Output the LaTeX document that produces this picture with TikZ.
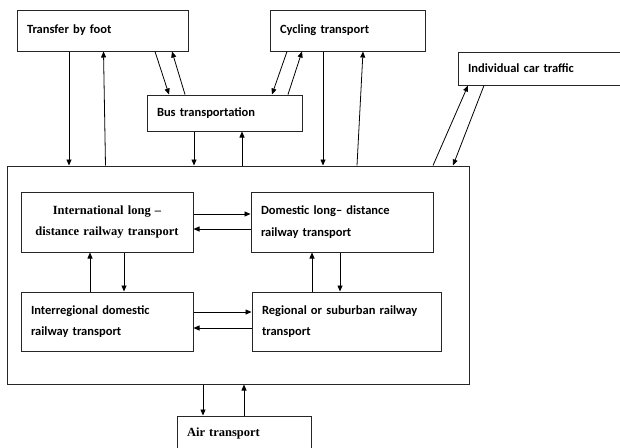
\documentclass[tikz,border=0pt]{standalone}
\usepackage{fontspec}
\usepackage{tikz}
\usetikzlibrary{arrows.meta}
\newfontfamily\calfont{Carlito}[Ligatures=TeX]
\newfontfamily\timesfont{Liberation Serif}[Ligatures=TeX]

\begin{document}
\begin{tikzpicture}[
  x=1pt, y=-1pt,
  every node/.style={font=\calfont\bfseries\fontsize{12.5}{21.5}\selectfont},
  box/.style={draw=black!85, line width=1pt, inner xsep=10pt, inner ysep=0pt,
              align=left},
  tbox/.style={box, align=center,
               font=\timesfont\bfseries\fontsize{12.5}{21}\selectfont},
  arrow/.style={-{Triangle[length=6pt,width=5pt]}, line width=0.8pt},
]
\clip (0,0) rectangle (620,447);

%% Outer modes
\node[box, text width=151pt, minimum height=41pt] (foot) at (102.5,30.5) {Transfer by foot};
\node[box, text width=135pt, minimum height=41pt] (cyc)  at (347.5,30.5) {Cycling transport};
\node[box, text width=135pt, minimum height=36pt] (bus)  at (224.5,113)  {Bus transportation};
\node[box, text width=162pt, minimum height=33pt] (car)  at (549,68.5)   {Individual car traffic};

%% Railway block
\node[draw=black!85, line width=1pt, minimum width=462pt, minimum height=218pt] (rail) at (238,275) {};
\node[tbox, text width=152pt, minimum height=60pt] (intl)  at (107,222)   {International long \textendash\\distance railway transport};
\node[box, text width=162pt, minimum height=60pt]  (dom)   at (342,222)   {Domestic long\textendash\ distance\\railway transport};
\node[box, text width=152pt, minimum height=59pt]  (inter) at (107,321.5) {Interregional domestic\\railway transport};
\node[box, text width=169pt, minimum height=59pt]  (reg)   at (346.5,321.5) {Regional or suburban railway\\transport};

\node[tbox, align=left, text width=114pt, minimum height=34pt] (air) at (244,433) {Air transport};

%% Foot, bus, cycling
\draw[arrow] ([xshift=-33.5pt]foot.south) -- ([xshift=-169pt]rail.north);
\draw[arrow] ([xshift=-132.5pt]rail.north) -- ([xshift=1pt]foot.south);
\draw[arrow] ([xshift=52.5pt]foot.south) -- ([xshift=-55.5pt]bus.north);
\draw[arrow] ([xshift=-39.5pt]bus.north) -- ([xshift=69.5pt]foot.south);
\draw[arrow] ([xshift=-60.5pt]cyc.south) -- ([xshift=47.5pt]bus.north);
\draw[arrow] ([xshift=63.5pt]bus.north) -- ([xshift=-45.5pt]cyc.south);
\draw[arrow] ([xshift=-30.5pt]bus.south) -- ([xshift=-44pt]rail.north);
\draw[arrow] ([xshift=4pt]rail.north) -- ([xshift=17.5pt]bus.south);
\draw[arrow] ([xshift=-24.5pt]cyc.south) -- ([xshift=85pt]rail.north);
\draw[arrow] ([xshift=119pt]rail.north) -- ([xshift=15.5pt]cyc.south);

%% Car
\draw[arrow] ([xshift=195pt]rail.north) -- ([xshift=-81pt]car.south);
\draw[arrow] ([xshift=-65pt]car.south) -- ([xshift=215pt]rail.north);

%% Inside railway block
\draw[arrow] ([yshift=8pt]intl.east) -- ([yshift=8pt]dom.west);
\draw[arrow] ([yshift=-7pt]dom.west) -- ([yshift=-7pt]intl.east);
\draw[arrow] ([xshift=-17pt]inter.north) -- ([xshift=-17pt]intl.south);
\draw[arrow] ([xshift=17pt]intl.south) -- ([xshift=17pt]inter.north);
\draw[arrow] ([xshift=-34.5pt]reg.north) -- ([xshift=-30pt]dom.south);
\draw[arrow] ([xshift=-2pt]dom.south) -- ([xshift=-6.5pt]reg.north);
\draw[arrow] ([yshift=9.5pt]inter.east) -- ([yshift=9.5pt]reg.west);
\draw[arrow] ([yshift=-6.5pt]reg.west) -- ([yshift=-6.5pt]inter.east);

%% Air
\draw[arrow] ([xshift=-35pt]rail.south) -- ([xshift=-41pt]air.north);
\draw[arrow] (air.north) -- ([xshift=6pt]rail.south);

\end{tikzpicture}
\end{document}
